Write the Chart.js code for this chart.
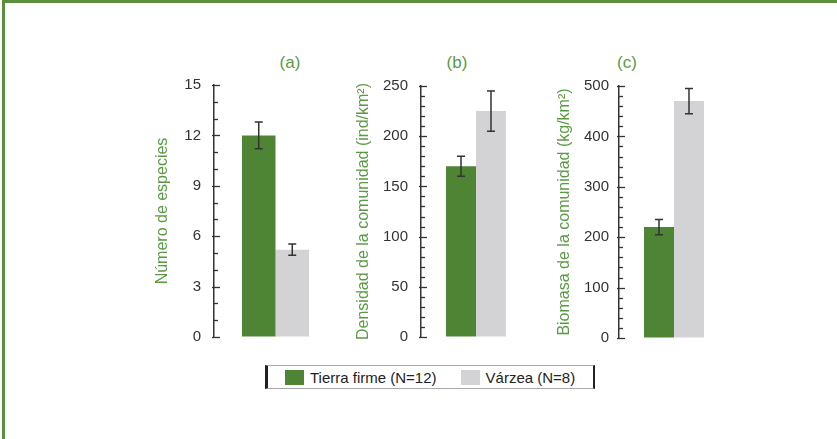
<!DOCTYPE html>
<html>
<head>
<meta charset="utf-8">
<script src="https://cdn.jsdelivr.net/npm/chart.js@4"></script>
<style>
  body { margin: 0; background: #fff; font-family: 'Liberation Sans', Arial, sans-serif; }
  #page { position: relative; width: 837px; height: 439px; overflow: hidden; }
  #frame { position: absolute; left: 2px; top: 0; right: 0; bottom: 0;
           border-top: 3px solid #5b8f3f; border-left: 3px solid #5b8f3f; }
  canvas { position: absolute; }
  .panel { position: absolute; width: 40px; text-align: center; top: 53px;
           font-size: 17px; line-height: 20px; color: #5a9a44; }
  #legend { position: absolute; left: 265px; top: 365px; width: 330px; height: 24px; box-sizing: border-box;
            border-left: 3px solid #222; border-right: 2px solid #222;
            border-top: 1px solid #aaa; border-bottom: 1px solid #aaa;
            display: flex; align-items: center; padding-left: 17px; font-size: 15px; color: #222;
            white-space: nowrap; }
  #legend .sw { width: 19px; height: 15px; margin-right: 6px; flex-shrink: 0; }
  #legend .item { display: flex; align-items: center; margin-right: 24px; flex-shrink: 0; }
</style>
</head>
<body>
<div id="page">
  <div id="frame"></div>
  <canvas id="chartA" width="220" height="272" style="left:140px; top:75px"></canvas>
  <canvas id="chartB" width="215" height="272" style="left:345px; top:75px"></canvas>
  <canvas id="chartC" width="215" height="273" style="left:545px; top:75px"></canvas>
  <div class="panel" style="left:270px">(a)</div>
  <div class="panel" style="left:437px">(b)</div>
  <div class="panel" style="left:607px">(c)</div>
  <div id="legend"></div>
</div>
<script>
const categories = [''];
const seriesNames = ['Tierra firme (N=12)', 'Várzea (N=8)'];
const seriesColors = ['#4e8535', '#d3d3d5'];

const speciesValues = [12, 5.2];
const speciesErrors = [0.8, 0.33];
const densityValues = [170, 225];
const densityErrors = [10, 20];
const biomassValues = [220, 470];
const biomassErrors = [15, 25];

const axisTitles = ['Número de especies', 'Densidad de la comunidad (ind/km²)', 'Biomasa de la comunidad (kg/km²)'];
const axisMax = [15, 250, 500];
const minorSteps = [1, 10, 20];
const majorSteps = [3, 50, 100];

Chart.defaults.font.family = "'Liberation Sans', Arial, sans-serif";

// error bars plus tick marks pointing into the plot area
function extras(minor, major) {
  return {
    id: 'extras',
    afterDatasetsDraw(chart) {
      const ctx = chart.ctx;
      const y = chart.scales.y;
      ctx.save();
      ctx.strokeStyle = '#333';
      ctx.lineWidth = 1.5;
      chart.data.datasets.forEach((ds, i) => {
        chart.getDatasetMeta(i).data.forEach((bar, j) => {
          const v = ds.data[j], e = ds.errors[j];
          const top = y.getPixelForValue(v + e);
          const bot = y.getPixelForValue(v - e);
          ctx.beginPath();
          ctx.moveTo(bar.x, top); ctx.lineTo(bar.x, bot);
          ctx.moveTo(bar.x - 4, top); ctx.lineTo(bar.x + 4, top);
          ctx.moveTo(bar.x - 4, bot); ctx.lineTo(bar.x + 4, bot);
          ctx.stroke();
        });
      });

      const x = chart.chartArea.left;
      ctx.strokeStyle = '#333';
      ctx.lineWidth = 1.3;
      for (let v = 0; v <= y.max; v += minor) {
        const py = Math.round(y.getPixelForValue(v)) + 0.5;
        const isMajor = v % major === 0;
        ctx.beginPath();
        ctx.moveTo(x - (isMajor ? 2 : 0), py);
        ctx.lineTo(x + (isMajor ? 6 : 4), py);
        ctx.stroke();
      }
      ctx.restore();
    }
  };
}

function makeChart(id, idx, values, errors, layout) {
  new Chart(document.getElementById(id), {
    type: 'bar',
    data: {
      labels: categories,
      datasets: seriesNames.map((name, i) => ({
        label: name,
        data: [values[i]],
        errors: [errors[i]],
        backgroundColor: seriesColors[i],
        borderWidth: 0,
        barPercentage: 1,
        categoryPercentage: 0.545
      }))
    },
    options: {
      responsive: false,
      animation: false,
      devicePixelRatio: 1,
      layout: { padding: { top: layout.top, bottom: 10, right: layout.right, left: 0 } },
      plugins: {
        legend: { display: false },
        tooltip: { enabled: false }
      },
      scales: {
        x: { display: false },
        y: {
          min: 0,
          max: axisMax[idx],
          afterFit: (scale) => { scale.width = layout.width; },
          border: { display: true, color: '#333', width: 1.5 },
          // invisible outer tick marks only used as the gap before the labels
          grid: { display: true, drawOnChartArea: false, drawTicks: true,
                  tickLength: layout.pad, tickColor: 'rgba(0,0,0,0)' },
          ticks: {
            stepSize: minorSteps[idx],
            autoSkip: false,
            padding: 0,
            color: '#333',
            font: { size: 15 },
            callback: (v) => v % majorSteps[idx] === 0 ? v : ''
          },
          title: {
            display: true,
            text: axisTitles[idx],
            color: '#5a9a44',
            font: { size: 16 },
            padding: { top: layout.titlePad, bottom: 0 }
          }
        }
      }
    },
    plugins: [extras(minorSteps[idx], majorSteps[idx])]
  });
}

makeChart('chartA', 0, speciesValues, speciesErrors, { top: 10, right: 23, width: 74, pad: 13, titlePad: 13 });
makeChart('chartB', 1, densityValues, densityErrors, { top: 11, right: 29, width: 76, pad: 13, titlePad: 9 });
makeChart('chartC', 2, biomassValues, biomassErrors, { top: 11, right: 31, width: 74, pad: 10, titlePad: 10 });

const legend = document.getElementById('legend');
seriesNames.forEach((name, i) => {
  const item = document.createElement('div');
  item.className = 'item';
  const sw = document.createElement('div');
  sw.className = 'sw';
  sw.style.background = seriesColors[i];
  const txt = document.createElement('span');
  txt.textContent = name;
  item.appendChild(sw);
  item.appendChild(txt);
  legend.appendChild(item);
});
</script>
</body>
</html>
